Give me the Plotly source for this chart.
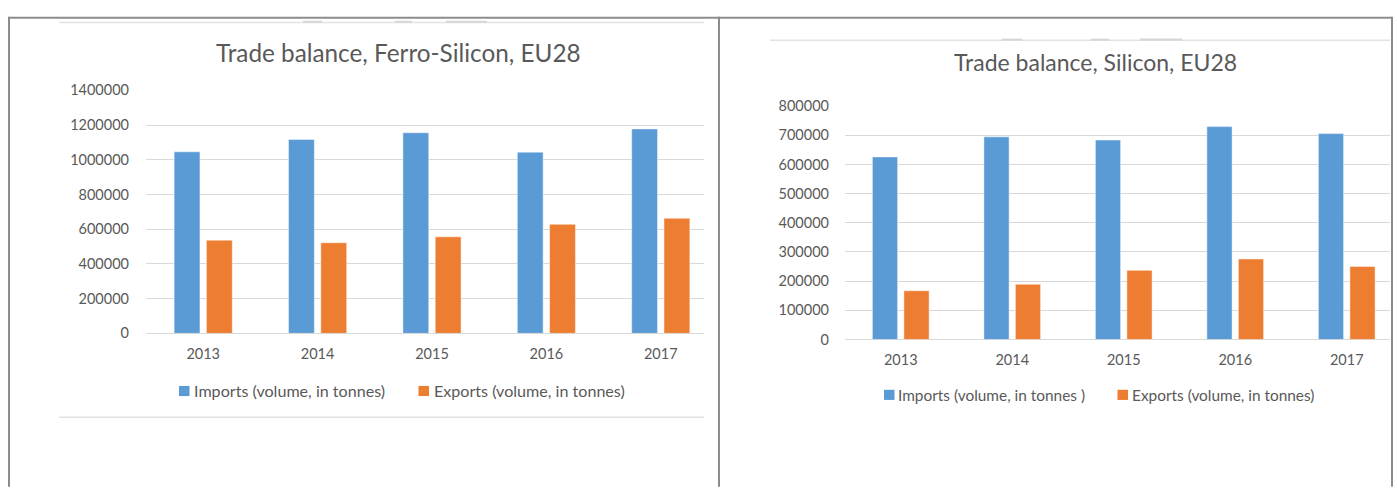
import plotly.graph_objects as go

# Canvas size in pixels
W, H = 1397, 491

# ---- data -------------------------------------------------------------
years = ["2013", "2014", "2015", "2016", "2017"]

ferro_imports = [1046000, 1117000, 1156000, 1044000, 1178000]
ferro_exports = [537000, 522000, 556000, 628000, 663000]

silicon_imports = [626000, 695000, 684000, 730000, 706000]
silicon_exports = [167000, 189000, 237000, 276000, 250000]

ferro_ticks = [0, 200000, 400000, 600000, 800000, 1000000, 1200000, 1400000]
silicon_ticks = [0, 100000, 200000, 300000, 400000, 500000, 600000, 700000, 800000]

ferro_title = "Trade balance, Ferro-Silicon, EU28"
silicon_title = "Trade balance, Silicon, EU28"
ferro_names = ["Imports (volume, in tonnes)", "Exports (volume, in tonnes)"]
silicon_names = ["Imports (volume, in tonnes )", "Exports (volume, in tonnes)"]

# ---- style ------------------------------------------------------------
BLUE = "#5B9BD5"
ORANGE = "#ED7D31"
TEXT = "#595959"
GRID = "#D9D9D9"
FRAME = "#8C8C8C"
FAINT = "#E3E3E3"
FONT = "Lato"


def px(x):
    return x / W


def py(y):
    return 1 - y / H


fig = go.Figure()

for vals, name, color in ((ferro_imports, ferro_names[0], BLUE),
                          (ferro_exports, ferro_names[1], ORANGE)):
    fig.add_trace(go.Bar(x=years, y=vals, name=name, marker_color=color,
                         marker_line=dict(color="rgba(255,255,255,0.45)", width=1),
                         xaxis="x", yaxis="y", showlegend=False))

for vals, name, color in ((silicon_imports, silicon_names[0], BLUE),
                          (silicon_exports, silicon_names[1], ORANGE)):
    fig.add_trace(go.Bar(x=years, y=vals, name=name, marker_color=color,
                         marker_line=dict(color="rgba(255,255,255,0.45)", width=1),
                         xaxis="x2", yaxis="y2", showlegend=False))

xcommon = dict(type="category", showgrid=False, showline=False, zeroline=False,
               ticks="", tickfont=dict(family=FONT, size=14.5, color=TEXT),
               ticklabelstandoff=10, fixedrange=True)
ycommon = dict(showgrid=True, gridcolor=GRID, gridwidth=1, zeroline=True,
               zerolinecolor=GRID, zerolinewidth=1, showline=False, ticks="",
               tickfont=dict(family=FONT, size=14.5, color=TEXT), fixedrange=True)

fig.update_layout(
    width=W, height=H, autosize=False,
    margin=dict(l=0, r=0, t=0, b=0),
    paper_bgcolor="white", plot_bgcolor="white",
    barmode="group", bargap=0.435, bargroupgap=0.2,
    showlegend=False,
    font=dict(family=FONT, color=TEXT),
    xaxis=dict(xcommon, domain=[px(146), px(704)], anchor="y",
               range=[-0.5, 4.378]),
    yaxis=dict(ycommon, domain=[py(336), py(84.3)], anchor="x",
               range=[0, ferro_ticks[-1]], tickvals=ferro_ticks,
               ticktext=[str(v) for v in ferro_ticks], ticklabelstandoff=16),
    xaxis2=dict(xcommon, domain=[px(845), px(1390)], anchor="y2",
                range=[-0.5, 4.388]),
    yaxis2=dict(ycommon, domain=[py(342.3), py(100.7)], anchor="x2",
                range=[0, silicon_ticks[-1]], tickvals=silicon_ticks,
                ticktext=[str(v) for v in silicon_ticks], ticklabelstandoff=15),
)

shapes = []
annotations = []


def hline(x0, x1, y, color, width):
    shapes.append(dict(type="line", xref="paper", yref="paper",
                       x0=px(x0), x1=px(x1), y0=py(y), y1=py(y),
                       line=dict(color=color, width=width)))


def vline(x, y0, y1, color, width):
    shapes.append(dict(type="line", xref="paper", yref="paper",
                       x0=px(x), x1=px(x), y0=py(y0), y1=py(y1),
                       line=dict(color=color, width=width)))


# Outer page frame and the divider between the two panels
hline(9, 1392, 9, FRAME, 2)
vline(9, 8, 495, FRAME, 2)
vline(719, 8, 495, FRAME, 2)
vline(1392, 8, 495, FRAME, 2)

# Faint chart-area borders with small handles
hline(59, 704, 14, FAINT, 1.5)
hline(59, 704, 423, FAINT, 1.5)
for a, b in ((303, 322), (395, 412), (446, 487)):
    hline(a, b, 13.2, "#D6D6D6", 2)
hline(770, 1390, 32.5, FAINT, 1.5)
for a, b in ((1002, 1022), (1091, 1109), (1140, 1182)):
    hline(a, b, 31.7, "#D6D6D6", 2)

# Titles
annotations.append(dict(text=ferro_title, xref="paper", yref="paper",
                        x=px(399), y=py(44.7), xanchor="center", yanchor="middle",
                        showarrow=False, font=dict(family=FONT, size=24.3, color=TEXT)))
annotations.append(dict(text=silicon_title, xref="paper", yref="paper",
                        x=px(1095), y=py(55), xanchor="center", yanchor="middle",
                        showarrow=False, font=dict(family=FONT, size=23, color=TEXT)))


# Legends: colour swatch followed by its series name
def legend_item(sx, sy, size, color, label, tx, fsize):
    shapes.append(dict(type="rect", xref="paper", yref="paper",
                       x0=px(sx), x1=px(sx + size), y0=py(sy + size / 2),
                       y1=py(sy - size / 2), fillcolor=color, line=dict(width=0)))
    annotations.append(dict(text=label, xref="paper", yref="paper",
                            x=px(tx), y=py(sy), xanchor="left", yanchor="middle",
                            showarrow=False, borderpad=0,
                            font=dict(family=FONT, size=fsize, color=TEXT)))


legend_item(179, 395.7, 10.5, BLUE, ferro_names[0], 192.5, 16.1)
legend_item(418.5, 395.7, 10.5, ORANGE, ferro_names[1], 432.5, 16.1)
legend_item(884, 399.7, 10.5, BLUE, silicon_names[0], 896.5, 15.4)
legend_item(1117.5, 399.7, 10.5, ORANGE, silicon_names[1], 1131, 15.4)

fig.update_layout(shapes=shapes, annotations=annotations)

fig.write_html("out.html")
